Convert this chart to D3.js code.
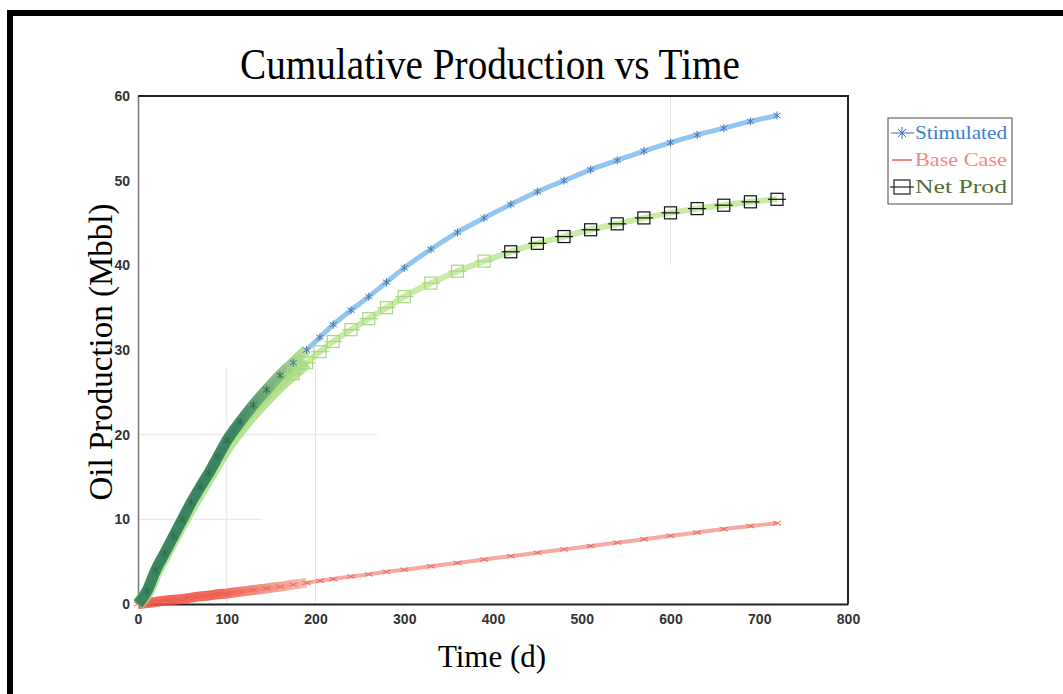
<!DOCTYPE html>
<html>
<head>
<meta charset="utf-8">
<title>Cumulative Production vs Time</title>
<script src="https://d3js.org/d3.v7.min.js"></script>
<style>
  body { margin: 0; background: #fff; }
  .tick text { font-family: "Liberation Sans", Arial, sans-serif; font-weight: bold; fill: #333; }
</style>
</head>
<body>
<div id="chart"></div>
<script>
// ---- data ----
var days = [0, 10, 20, 30, 40, 50, 60, 70, 80, 90, 100, 115, 130, 145, 160, 175, 190, 205, 220, 240,
            260, 280, 300, 330, 360, 390, 420, 450, 480, 510, 540, 570, 600, 630, 660, 690, 720];
var stimulated = [0, 1.5, 4, 6, 8, 10, 12, 13.8, 15.5, 17.4, 19.3, 21.5, 23.5, 25.3, 27, 28.5, 30, 31.5, 33, 34.7,
                  36.3, 38, 39.7, 41.9, 43.9, 45.6, 47.2, 48.7, 50, 51.3, 52.4, 53.5, 54.5, 55.4, 56.2, 57, 57.7];
var netProd = [0, 1.3, 3.7, 5.7, 7.7, 9.6, 11.5, 13.3, 15, 16.8, 18.5, 20.6, 22.5, 24.2, 25.8, 27.2, 28.5, 29.8, 31, 32.4,
               33.7, 35, 36.3, 37.9, 39.3, 40.5, 41.6, 42.6, 43.4, 44.2, 44.9, 45.6, 46.2, 46.7, 47.1, 47.5, 47.8];
var baseCase = [0, 0.1, 0.25, 0.4, 0.5, 0.6, 0.75, 0.9, 1.0, 1.15, 1.25, 1.45, 1.65, 1.85, 2.05, 2.3, 2.5, 2.75, 2.95, 3.25,
                3.5, 3.8, 4.05, 4.45, 4.85, 5.25, 5.65, 6.05, 6.45, 6.85, 7.25, 7.65, 8.05, 8.45, 8.85, 9.2, 9.55];
var xTicks = [0, 100, 200, 300, 400, 500, 600, 700, 800];
var yTicks = [0, 10, 20, 30, 40, 50, 60];
var seriesNames = ["Stimulated", "Base Case", "Net Prod"];

var W = 1063, H = 694;
var svg = d3.select("#chart").append("svg").attr("width", W).attr("height", H);
var defs = svg.append("defs");

// scanned page frame
svg.append("path")
  .attr("d", "M10,694 L10,13 L1063,13")
  .attr("fill", "none").attr("stroke", "#000").attr("stroke-width", 6);

var x = d3.scaleLinear().domain([0, 800]).range([138, 848]);
var y = d3.scaleLinear().domain([0, 60]).range([604, 96]);

// gradients for the dense early marker bands
function fade(id, c1, c2, a, b) {
  var gr = defs.append("linearGradient").attr("id", id)
    .attr("gradientUnits", "userSpaceOnUse")
    .attr("x1", x(a)).attr("x2", x(b)).attr("y1", 0).attr("y2", 0);
  gr.append("stop").attr("offset", 0).attr("stop-color", c1);
  gr.append("stop").attr("offset", 1).attr("stop-color", c2);
}
fade("gFade", "#2f7d55", "#b9e58f", 110, 190);
fade("rFade", "#ee4f3e", "#f7b3aa", 90, 190);

// faint grid traces
var g = svg.append("g").attr("stroke", "#e6e6e6").attr("stroke-width", 1);
g.append("line").attr("x1", x(100)).attr("x2", x(100)).attr("y1", y(28)).attr("y2", y(0));
g.append("line").attr("x1", x(200)).attr("x2", x(200)).attr("y1", y(30)).attr("y2", y(0));
g.append("line").attr("x1", x(600)).attr("x2", x(600)).attr("y1", y(60)).attr("y2", y(40));
g.append("line").attr("x1", x(0)).attr("x2", x(270)).attr("y1", y(20)).attr("y2", y(20));
g.append("line").attr("x1", x(0)).attr("x2", x(140)).attr("y1", y(10)).attr("y2", y(10));

// axes
var xAxis = svg.append("g").attr("transform", "translate(0," + y(0) + ")")
  .call(d3.axisBottom(x).tickValues(xTicks).tickSize(0).tickPadding(10));
xAxis.select(".domain").attr("stroke", "#222").attr("stroke-width", 2);
xAxis.selectAll("text").style("font-size", "14px");

var yAxis = svg.append("g").attr("transform", "translate(" + x(0) + ",0)")
  .call(d3.axisLeft(y).tickValues(yTicks).tickSize(0).tickPadding(8));
yAxis.select(".domain").attr("stroke", "#777").attr("stroke-width", 1.5);
yAxis.selectAll("text").style("font-size", "14px");

// top and right frame
svg.append("path")
  .attr("d", "M" + x(0) + "," + y(60) + " L" + x(800) + "," + y(60) + " L" + x(800) + "," + y(0))
  .attr("fill", "none").attr("stroke", "#222").attr("stroke-width", 2);

var pts = function(vals) { return days.map(function(d, i) { return [d, vals[i]]; }); };
var line = d3.line().x(function(d) { return x(d[0]); }).y(function(d) { return y(d[1]); }).curve(d3.curveMonotoneX);
var early = function(p) { return p.filter(function(d) { return d[0] <= 190; }); };

// Base Case
var red = pts(baseCase);
svg.append("path").attr("d", line(red)).attr("fill", "none")
  .attr("stroke", "#f6aaa2").attr("stroke-width", 4);
svg.append("path").attr("d", line(early(red))).attr("fill", "none")
  .attr("stroke", "url(#rFade)").attr("stroke-width", 10).attr("opacity", 0.85);
svg.append("g").selectAll("path").data(red).enter().append("path")
  .attr("transform", function(d) { return "translate(" + x(d[0]) + "," + y(d[1]) + ")"; })
  .attr("d", "M-4,-2 L4,2 M-4,2 L4,-2")
  .attr("stroke", "#e86a5c").attr("stroke-width", 1);

// Net Prod
var grn = pts(netProd);
svg.append("path").attr("d", line(grn)).attr("fill", "none")
  .attr("stroke", "#c9eba3").attr("stroke-width", 6);
svg.append("path").attr("d", line(early(grn))).attr("fill", "none")
  .attr("stroke", "#a6dd7e").attr("stroke-width", 13).attr("opacity", 0.8);

// Stimulated
var blu = pts(stimulated);
svg.append("path").attr("d", line(blu)).attr("fill", "none")
  .attr("stroke", "#92c5ef").attr("stroke-width", 5);
svg.append("path").attr("d", line(early(blu))).attr("fill", "none")
  .attr("stroke", "url(#gFade)").attr("stroke-width", 11).attr("opacity", 0.9);
svg.append("g").selectAll("path").data(blu.filter(function(d) { return d[0] > 0; })).enter().append("path")
  .attr("transform", function(d) { return "translate(" + x(d[0]) + "," + y(d[1]) + ")"; })
  .attr("d", "M0,-4 L0,4 M-3.5,-2.5 L3.5,2.5 M-3.5,2.5 L3.5,-2.5")
  .attr("stroke", function(d) { return d[0] > 160 ? "#4a78b5" : "#2f6a4f"; }).attr("stroke-width", 1);

// Net Prod box markers
svg.append("g").selectAll("g").data(grn.filter(function(d) { return d[0] >= 175; })).enter().append("g")
  .attr("transform", function(d) { return "translate(" + x(d[0]) + "," + y(d[1]) + ")"; })
  .each(function(d) {
    var c = d[0] >= 420 ? "#111" : "#a8d883";
    var m = d3.select(this);
    m.append("rect").attr("x", -6).attr("y", -6).attr("width", 12).attr("height", 12)
      .attr("fill", "none").attr("stroke", c).attr("stroke-width", 1.2);
    m.append("line").attr("x1", -9).attr("x2", 9).attr("y1", 0).attr("y2", 0)
      .attr("stroke", c).attr("stroke-width", 1.2);
  });

// titles
svg.append("text").attr("x", 490).attr("y", 79).attr("text-anchor", "middle")
  .style("font-family", "'Liberation Serif', 'Times New Roman', serif").style("font-size", "44px")
  .attr("textLength", 500).attr("lengthAdjust", "spacingAndGlyphs")
  .text("Cumulative Production vs Time");

svg.append("text").attr("x", 492).attr("y", 667).attr("text-anchor", "middle")
  .style("font-family", "'Liberation Serif', 'Times New Roman', serif").style("font-size", "31px")
  .text("Time (d)");

svg.append("text").attr("transform", "translate(112,352) rotate(-90)").attr("text-anchor", "middle")
  .style("font-family", "'Liberation Serif', 'Times New Roman', serif").style("font-size", "33px")
  .text("Oil Production (Mbbl)");

// legend
var legendColors = ["#3d7fd0", "#f08a80", "#4f6f2e"];
var leg = svg.append("g").attr("transform", "translate(888,118)");
leg.append("rect").attr("width", 124).attr("height", 86)
  .attr("fill", "#fff").attr("stroke", "#666").attr("stroke-width", 1.2);
leg.selectAll("text").data(seriesNames).enter().append("text")
  .attr("x", 27).attr("y", function(d, i) { return 21 + i * 27; })
  .style("font-family", "'Liberation Serif', 'Times New Roman', serif").style("font-size", "18px")
  .attr("textLength", 92).attr("lengthAdjust", "spacingAndGlyphs")
  .attr("fill", function(d, i) { return legendColors[i]; })
  .text(function(d) { return d; });
leg.append("path").attr("d", "M3,15 L26,15 M14,9 L14,21 M10,11 L18,19 M10,19 L18,11")
  .attr("stroke", "#3d6fb0").attr("stroke-width", 1).attr("fill", "none");
leg.append("path").attr("d", "M4,42 L24,42").attr("stroke", "#f08a80").attr("stroke-width", 2);
leg.append("rect").attr("x", 6).attr("y", 62).attr("width", 16).attr("height", 14)
  .attr("fill", "none").attr("stroke", "#222").attr("stroke-width", 1.2);
leg.append("path").attr("d", "M2,69 L26,69").attr("stroke", "#222").attr("stroke-width", 1.2);
</script>
</body>
</html>
